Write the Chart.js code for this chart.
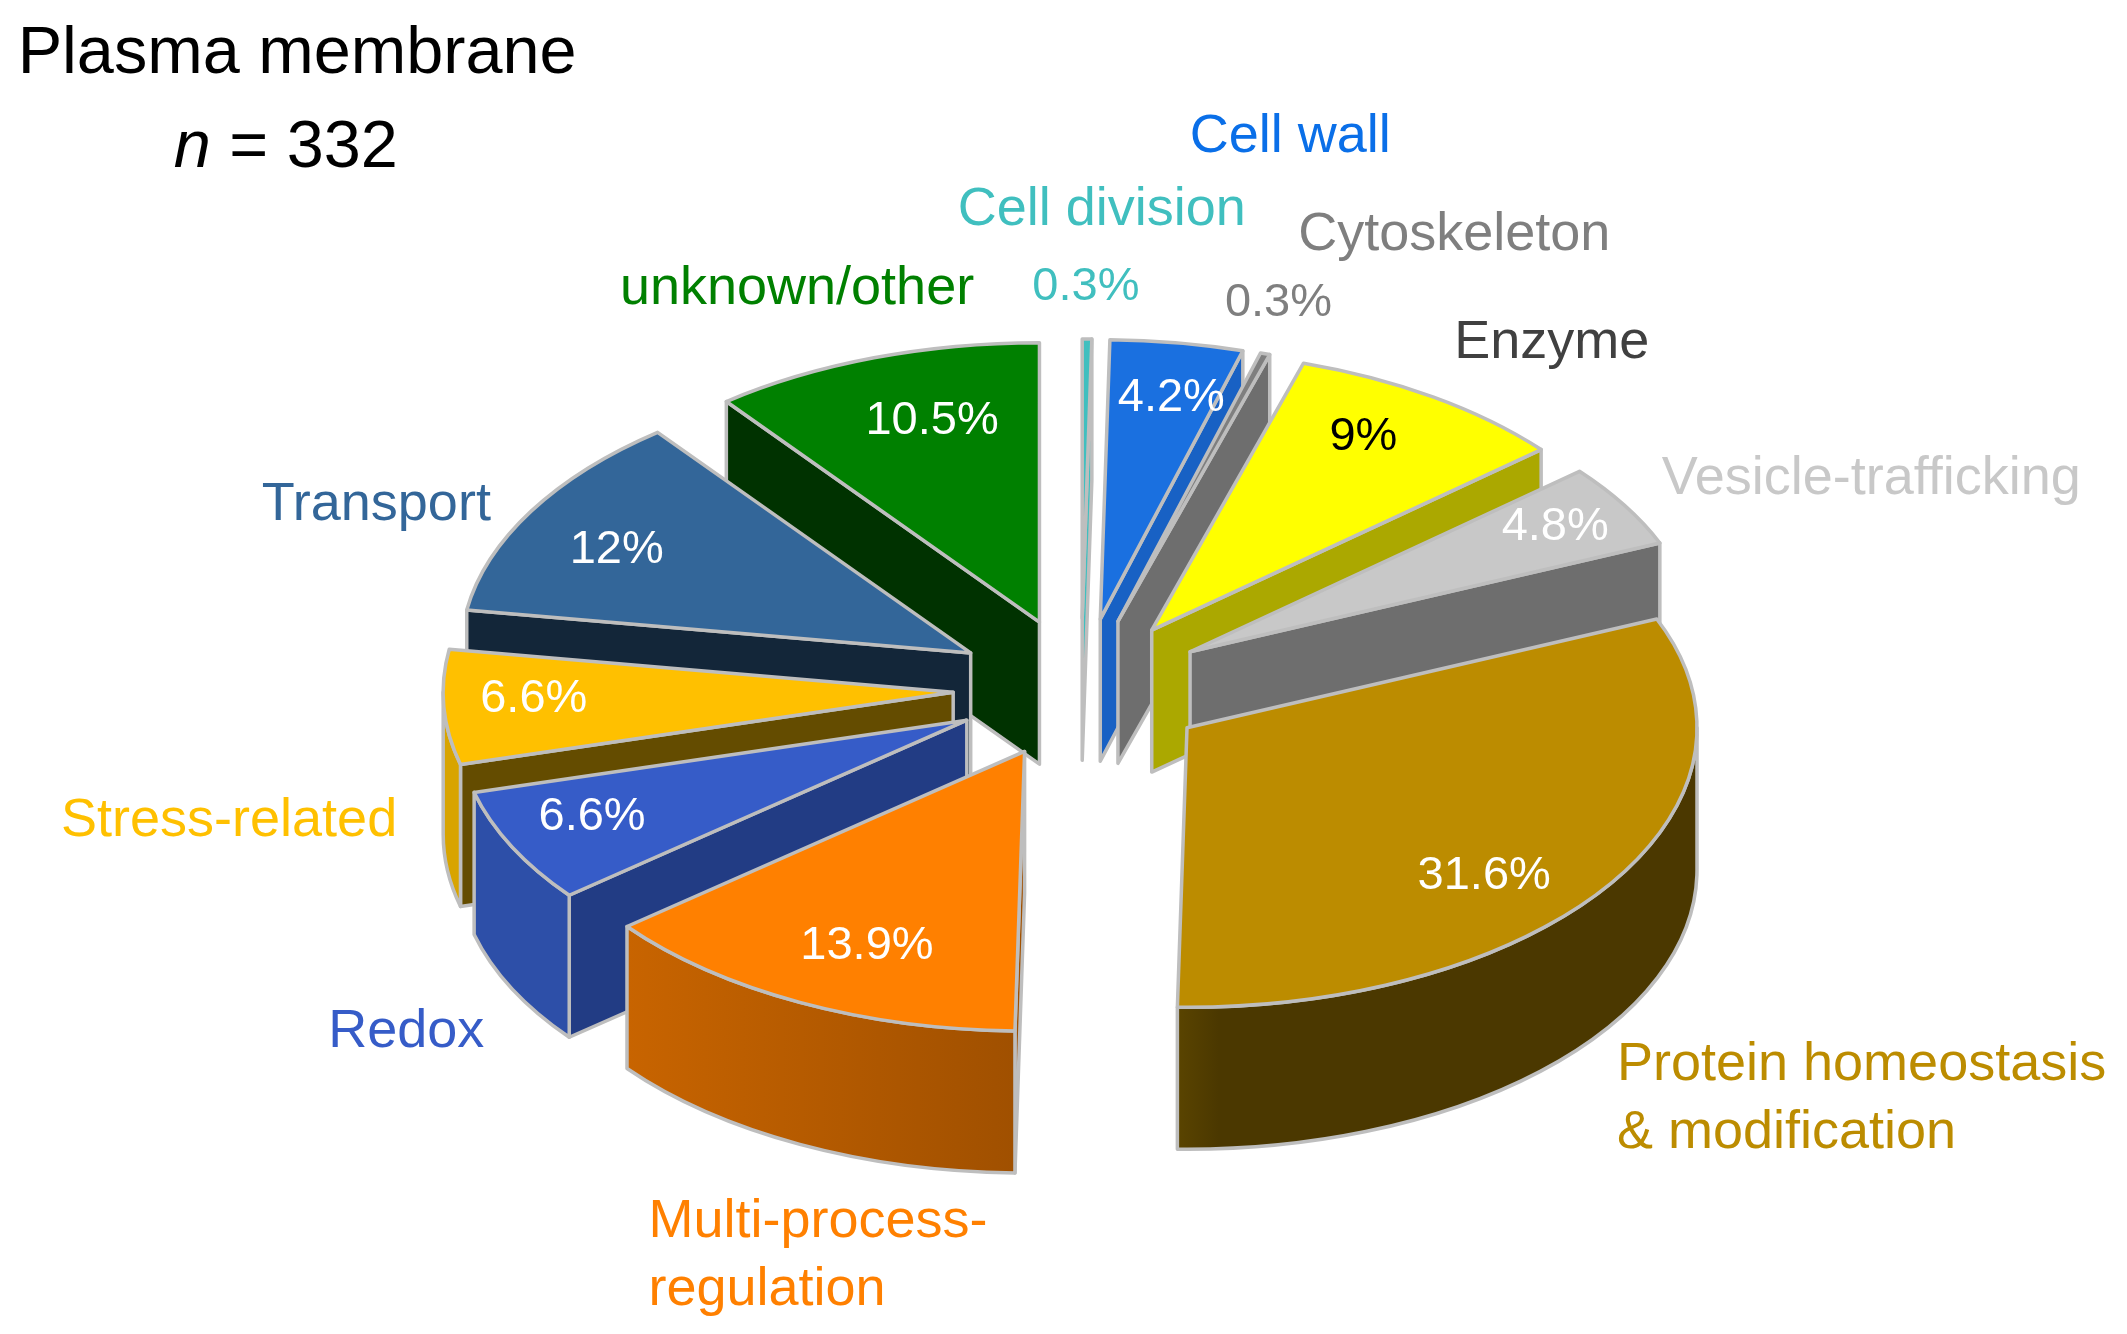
<!DOCTYPE html>
<html><head><meta charset="utf-8">
<style>html,body{margin:0;padding:0;background:#fff}canvas{display:block}</style>
<script src="https://cdn.jsdelivr.net/npm/chart.js@4"></script>
</head><body><canvas id="c" width="2127" height="1334"></canvas>
<script>
const categories=['Cell division','Cell wall','Cytoskeleton','Enzyme','Vesicle-trafficking','Protein homeostasis & modification','Multi-process-regulation','Redox','Stress-related','Transport','unknown/other'];
const values=[0.3,4.2,0.3,9,4.8,31.6,13.9,6.6,6.6,12,10.5];
const topColors=['#40BFBF','#1A70E0','#7F7F7F','#FFFF00','#C8C8C8','#BC8C00','#FF8000','#365CC8','#FFC000','#336699','#008000'];
const cutColors=['#40BFBF','#1861C4','#6E6E6E','#ABA800','#6E6E6E','#4B3800','#A05000','#223C84','#644C00','#132639','#003200'];
const rimFrom=['#40BFBF','#1861C4','#6E6E6E','#ABA800','#6E6E6E','#5A4400','#C86400','#2D4FA8','#D8A400','#132639','#003200'];
const rimTo=['#40BFBF','#1861C4','#6E6E6E','#ABA800','#6E6E6E','#4B3800','#A05000','#2D4FA8','#D8A400','#132639','#003200'];
const labelColors=['#40BFBF','#0A6FE8','#7F7F7F','#404040','#C8C8C8','#BC8C00','#FF8000','#365CC8','#FFC000','#336699','#008000'];
const pctColors=['#40BFBF','#FFFFFF','#7F7F7F','#000000','#FFFFFF','#FFFFFF','#FFFFFF','#FFFFFF','#FFFFFF','#FFFFFF','#FFFFFF'];

const S=2127/1568, FONT='"Liberation Sans",Arial,sans-serif';
const SQUASH=0.548, EXPLODE=128, DEPTH=142, RADIUS=510, EDGE='#BEBEBE', EDGE_W=3.5;
// text layout: [x, baseline] in the 1568-wide frame
const nameLines=[[['Cell division'],[[706,166]]],[['Cell wall'],[[877,112]]],[['Cytoskeleton'],[[957,184]]],[['Enzyme'],[[1072,264]]],[['Vesicle-trafficking'],[[1225,364]]],[['Protein homeostasis','& modification'],[[1192,796],[1192,846]]],[['Multi-process-','regulation'],[[478,912],[478,962]]],[['Redox'],[[242,772]]],[['Stress-related'],[[45,616]]],[['Transport'],[[193,383]]],[['unknown/other'],[[457,224]]]];
const pctPos=[[761,221],[824,303],[903,233],[980,332],[1107,398],[1045,655],[590,707],[397,612],[354,525],[420,415],[638,320]];

const pie3d={id:'pie3d',
 beforeDatasetsDraw(chart){
  const ctx=chart.ctx, arcs=chart.getDatasetMeta(0).data;
  const items=arcs.map((arc,i)=>{
    const p=arc.getProps(['x','y','startAngle','endAngle','outerRadius'],true);
    const mid=(p.startAngle+p.endAngle)/2;
    return {arc,i,...p,mid,tx:Math.cos(mid)*EXPLODE,ty:Math.sin(mid)*EXPLODE};
  }).sort((a,b)=>Math.sin(a.mid)-Math.sin(b.mid));
  ctx.save();
  ctx.lineJoin='round';ctx.strokeStyle=EDGE;ctx.lineWidth=EDGE_W;
  for(const s of items){
    const R=s.outerRadius, ry=R*SQUASH, sx=s.x+s.tx, sy=s.y+SQUASH*s.ty;
    const pt=a=>[sx+R*Math.cos(a),sy+ry*Math.sin(a)];
    const st=pt(s.startAngle), en=pt(s.endAngle);
    const quad=(p,fill)=>{ctx.beginPath();ctx.moveTo(sx,sy);ctx.lineTo(p[0],p[1]);ctx.lineTo(p[0],p[1]+DEPTH);ctx.lineTo(sx,sy+DEPTH);ctx.closePath();ctx.fillStyle=fill;ctx.fill();ctx.stroke();};
    if(st[0]<sx) quad(st,cutColors[s.i]);
    if(en[0]>sx) quad(en,cutColors[s.i]);
    const a0=Math.max(s.startAngle,0), a1=Math.min(s.endAngle,Math.PI);
    if(a1>a0){
      const x0=sx+R*Math.cos(a1), x1=sx+R*Math.cos(a0);
      const g=ctx.createLinearGradient(x0,0,x1,0);
      g.addColorStop(0,rimFrom[s.i]);g.addColorStop(s.i===5?0.08:1,rimTo[s.i]);
      ctx.beginPath();ctx.ellipse(sx,sy,R,ry,0,a0,a1);ctx.ellipse(sx,sy+DEPTH,R,ry,0,a1,a0,true);ctx.closePath();
      ctx.fillStyle=g;ctx.fill();ctx.stroke();
    }
    // top face: the library's own arc element, squashed into the tilted plane
    ctx.save();
    ctx.translate(0,s.y);ctx.scale(1,SQUASH);ctx.translate(0,-s.y);ctx.translate(s.tx,s.ty);
    s.arc.draw(ctx);
    ctx.restore();
    ctx.beginPath();ctx.moveTo(sx,sy);ctx.ellipse(sx,sy,R,ry,0,s.startAngle,s.endAngle);ctx.closePath();ctx.stroke();
  }
  ctx.restore();
  return false;
 },
 afterDraw(chart){
  const ctx=chart.ctx;ctx.save();ctx.textAlign='left';ctx.textBaseline='alphabetic';
  const T=(t,x,y,size,col,style='')=>{ctx.font=`${style} ${size}px ${FONT}`;ctx.fillStyle=col;ctx.fillText(t,x*S,y*S);};
  T('Plasma membrane',13,54,66.6,'#000');
  T('n',128,123,66.6,'#000','italic');
  T('= 332',169,123,66.6,'#000');
  nameLines.forEach(([lines,pos],i)=>lines.forEach((l,j)=>T(l,pos[j][0],pos[j][1],54,labelColors[i])));
  values.forEach((v,i)=>T(v+'%',pctPos[i][0],pctPos[i][1],47,pctColors[i]));
  ctx.restore();
 }};

new Chart(document.getElementById('c'),{type:'pie',
 data:{labels:categories,datasets:[{data:values,backgroundColor:topColors,borderWidth:0}]},
 options:{responsive:false,devicePixelRatio:1,animation:false,events:[],radius:RADIUS,
  layout:{padding:{left:35,top:43}},
  plugins:{legend:{display:false},tooltip:{enabled:false},title:{display:false}}},
 plugins:[pie3d]});
</script></body></html>
